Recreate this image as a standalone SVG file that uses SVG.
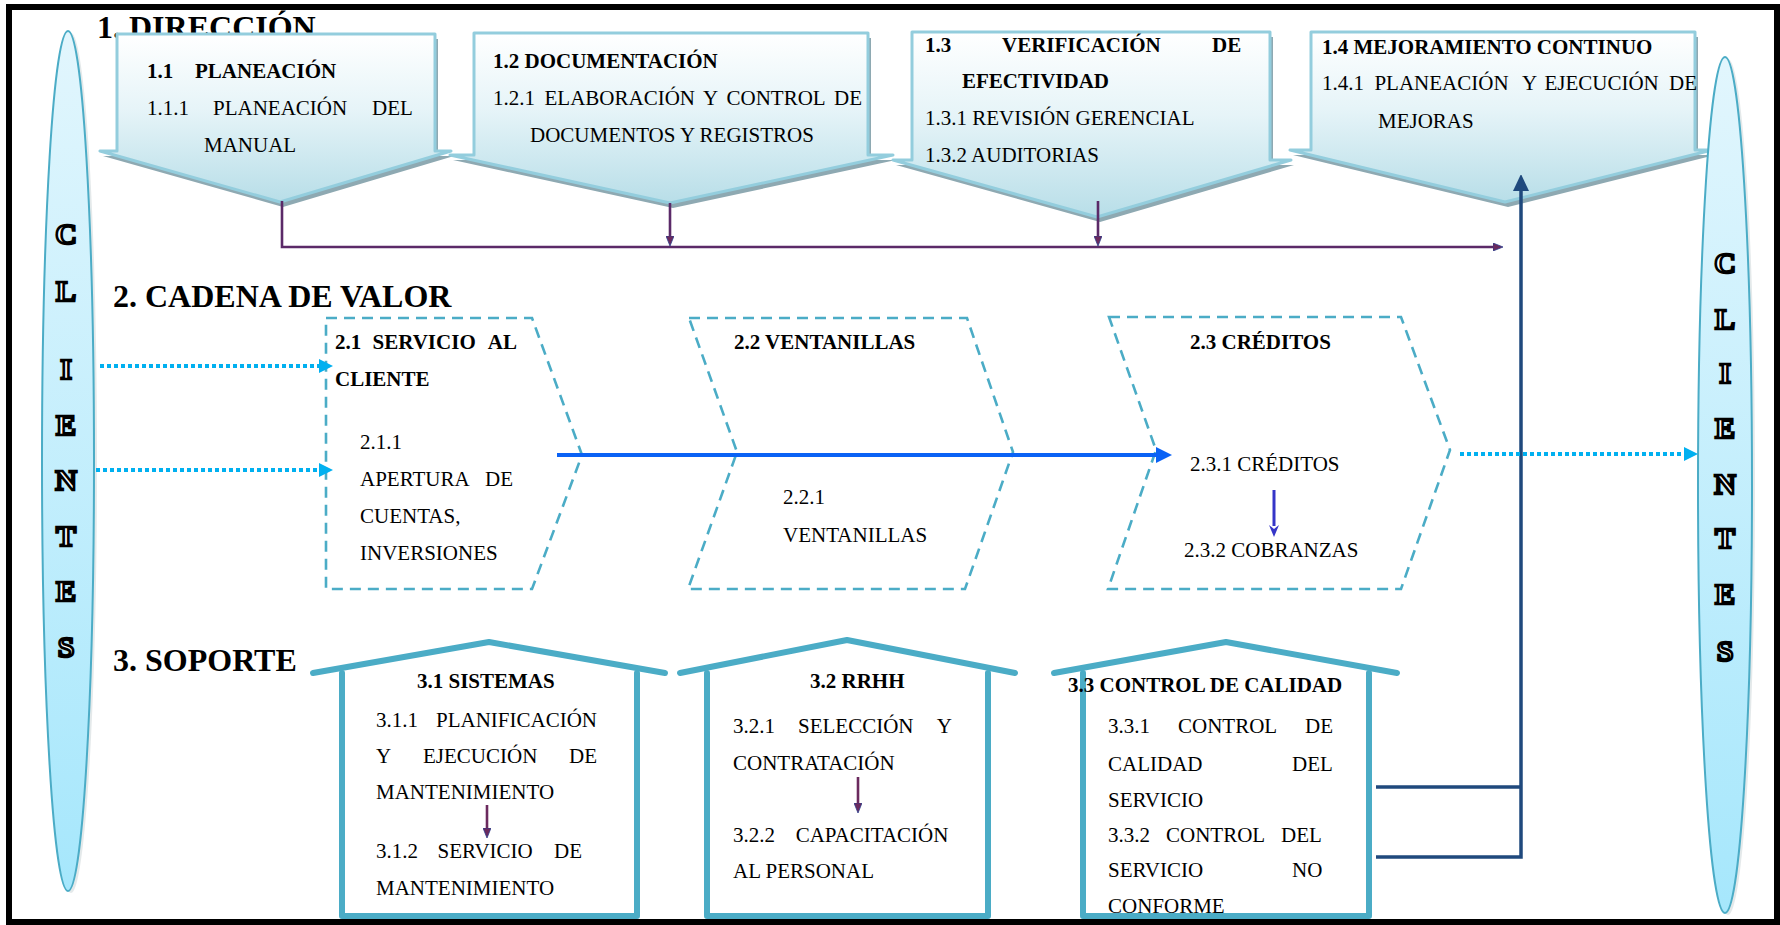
<svg xmlns="http://www.w3.org/2000/svg" width="1780" height="925" viewBox="0 0 1780 925">
<style>
text{font-family:"Liberation Serif","Times New Roman",serif;fill:#000}
.t{font-size:21px}
.b{font-size:21px;font-weight:bold}
.h{font-size:32px;font-weight:bold}
.cl{font-size:30px;font-weight:bold;fill:#fff;stroke:#000;stroke-width:2.6;text-anchor:middle}
.callout{fill:url(#gTop);stroke:#93cddd;stroke-width:3;stroke-linejoin:round}
.cshadow{fill:#8ea9b2}
.chev{fill:none;stroke:#4bacc6;stroke-width:2.6;stroke-dasharray:11 7}
.house{fill:none;stroke:#4bacc6;stroke-width:6;stroke-linecap:round;stroke-linejoin:round}
.dot{fill:none;stroke:#00b0f0;stroke-width:4;stroke-dasharray:4 3}
.pur{fill:none;stroke:#5b2a68;stroke-width:2.6}
.navy{fill:none;stroke:#1f497d;stroke-width:3.5}
</style>
<defs>
<linearGradient id="gTop" x1="0" y1="0" x2="0" y2="1">
<stop offset="0" stop-color="#ffffff"/>
<stop offset="0.45" stop-color="#e6f4f8"/>
<stop offset="1" stop-color="#b8dee8"/>
</linearGradient>
<linearGradient id="gEll" x1="0" y1="0" x2="0" y2="1">
<stop offset="0" stop-color="#e2f6fd"/>
<stop offset="1" stop-color="#a6e7fc"/>
</linearGradient>
<marker id="mCyan" markerUnits="userSpaceOnUse" viewBox="0 0 14 14" markerWidth="14" markerHeight="14" refX="1" refY="7" orient="auto"><path d="M0,0 L14,7 L0,14 z" fill="#00b0f0"/></marker>
<marker id="mBlue" markerUnits="userSpaceOnUse" viewBox="0 0 16 16" markerWidth="16" markerHeight="16" refX="1" refY="8" orient="auto"><path d="M0,0 L16,8 L0,16 z" fill="#0a62f5"/></marker>
<marker id="mNavy" markerUnits="userSpaceOnUse" viewBox="0 0 16 16" markerWidth="16" markerHeight="16" refX="1" refY="8" orient="auto"><path d="M0,0 L17,8 L0,16 z" fill="#1f497d"/></marker>
<marker id="mPur" markerUnits="userSpaceOnUse" viewBox="0 0 10 8" markerWidth="10" markerHeight="8" refX="1" refY="4" orient="auto"><path d="M0,0 L10,4 L0,8 z" fill="#6b2a5e" stroke="#2c3e8c" stroke-width="0.8"/></marker>
<marker id="mVio" markerUnits="userSpaceOnUse" viewBox="0 0 12 10" markerWidth="12" markerHeight="10" refX="1" refY="5" orient="auto"><path d="M0,0 L12,5 L0,10 L4,5 z" fill="#3636c8"/></marker>
</defs>

<rect x="0" y="0" width="1780" height="925" fill="#fff"/>
<rect x="9" y="7" width="1768" height="915" fill="none" stroke="#000" stroke-width="6"/>

<text class="h" x="97" y="38">1. DIRECCIÓN</text>
<text class="h" x="113" y="307">2. CADENA DE VALOR</text>
<text class="h" x="113" y="671">3. SOPORTE</text>

<g id="n1-1">
<path class="cshadow" transform="translate(3,5)" d="M117,34 H435 V151 H451 L280,202 L100,151 H117 Z"/>
<path class="callout" d="M117,34 H435 V151 H451 L280,202 L100,151 H117 Z"/>
<text class="b" y="78"><tspan x="147">1.1</tspan><tspan x="195">PLANEACIÓN</tspan></text>
<text class="t" y="115"><tspan x="147">1.1.1</tspan><tspan x="213">PLANEACIÓN</tspan><tspan x="372">DEL</tspan></text>
<text class="t" x="204" y="152">MANUAL</text>
</g>
<g id="n1-2">
<path class="cshadow" transform="translate(3,5)" d="M474,33 H868 V155 H893 L670,203 L450,155 H474 Z"/>
<path class="callout" d="M474,33 H868 V155 H893 L670,203 L450,155 H474 Z"/>
<text class="b" x="493" y="68">1.2 DOCUMENTACIÓN</text>
<text class="t" y="105"><tspan x="493">1.2.1</tspan><tspan x="544.5">ELABORACIÓN</tspan><tspan x="703">Y</tspan><tspan x="726.5">CONTROL</tspan><tspan x="834">DE</tspan></text>
<text class="t" x="530" y="142">DOCUMENTOS Y REGISTROS</text>
</g>
<g id="n1-3">
<path class="cshadow" transform="translate(3,5)" d="M912,32 H1270 V160 H1291 L1097,217 L893,160 H912 Z"/>
<path class="callout" d="M912,32 H1270 V160 H1291 L1097,217 L893,160 H912 Z"/>
<text class="b" y="52"><tspan x="925">1.3</tspan><tspan x="1002">VERIFICACIÓN</tspan><tspan x="1212">DE</tspan></text>
<text class="b" x="962" y="88">EFECTIVIDAD</text>
<text class="t" x="925" y="125">1.3.1 REVISIÓN GERENCIAL</text>
<text class="t" x="925" y="162">1.3.2 AUDITORIAS</text>
</g>
<g id="n1-4">
<path class="cshadow" transform="translate(3,5)" d="M1311,32 H1695 V150 H1712 L1505,202 L1290,150 H1311 Z"/>
<path class="callout" d="M1311,32 H1695 V150 H1712 L1505,202 L1290,150 H1311 Z"/>
<text class="b" x="1322" y="54">1.4 MEJORAMIENTO CONTINUO</text>
<text class="t" y="90"><tspan x="1322">1.4.1</tspan><tspan x="1374.4">PLANEACIÓN</tspan><tspan x="1522">Y</tspan><tspan x="1544.4">EJECUCIÓN</tspan><tspan x="1669">DE</tspan></text>
<text class="t" x="1378" y="128">MEJORAS</text>
</g>

<g id="clientes-left">
<ellipse cx="71" cy="463" rx="26" ry="430" fill="#c9d3d6" opacity="0.5"/>
<ellipse cx="68" cy="461" rx="26" ry="430" fill="url(#gEll)" stroke="#4bacc6" stroke-width="2"/>
<text class="cl" x="66" y="244">C</text>
<text class="cl" x="66" y="301">L</text>
<text class="cl" x="66" y="379">I</text>
<text class="cl" x="66" y="435">E</text>
<text class="cl" x="66" y="490">N</text>
<text class="cl" x="66" y="546">T</text>
<text class="cl" x="66" y="601">E</text>
<text class="cl" x="66" y="657">S</text>
</g>
<g id="clientes-right">
<ellipse cx="1728" cy="487" rx="27" ry="428" fill="#c9d3d6" opacity="0.5"/>
<ellipse cx="1725" cy="485" rx="27" ry="428" fill="url(#gEll)" stroke="#4bacc6" stroke-width="2"/>
<text class="cl" x="1725" y="273">C</text>
<text class="cl" x="1725" y="329">L</text>
<text class="cl" x="1725" y="383">I</text>
<text class="cl" x="1725" y="438">E</text>
<text class="cl" x="1725" y="494">N</text>
<text class="cl" x="1725" y="548">T</text>
<text class="cl" x="1725" y="604">E</text>
<text class="cl" x="1725" y="661">S</text>
</g>

<g id="n2-1">
<path class="chev" d="M326,318 H532 L582,455 L532,589 H326 Z"/>
<text class="b" y="349"><tspan x="335">2.1</tspan><tspan x="372.6">SERVICIO</tspan><tspan x="487.8">AL</tspan></text>
<text class="b" x="335" y="386">CLIENTE</text>
<text class="t" x="360" y="449">2.1.1</text>
<text class="t" y="486"><tspan x="360">APERTURA</tspan><tspan x="485">DE</tspan></text>
<text class="t" x="360" y="523">CUENTAS,</text>
<text class="t" x="360" y="560">INVERSIONES</text>
</g>
<g id="n2-2">
<path class="chev" d="M689,318 H967 L1013,452 L965,589 H688 L737,452 Z"/>
<text class="b" x="734" y="349">2.2 VENTANILLAS</text>
<text class="t" x="783" y="504">2.2.1</text>
<text class="t" x="783" y="542">VENTANILLAS</text>
</g>
<g id="n2-3">
<path class="chev" d="M1109,317 H1401 L1450,450 L1401,589 H1108 L1156,450 Z"/>
<text class="b" x="1190" y="349">2.3 CRÉDITOS</text>
<text class="t" x="1190" y="471">2.3.1 CRÉDITOS</text>
<text class="t" x="1184" y="557">2.3.2 COBRANZAS</text>
</g>

<g id="n3-1">
<polyline class="house" points="313,673 489,642 665,673"/>
<polyline class="house" points="342,673 342,916 637,916 637,673"/>
<text class="b" x="417" y="688">3.1 SISTEMAS</text>
<text class="t" y="727"><tspan x="376">3.1.1</tspan><tspan x="436">PLANIFICACIÓN</tspan></text>
<text class="t" y="763"><tspan x="376">Y</tspan><tspan x="423">EJECUCIÓN</tspan><tspan x="569">DE</tspan></text>
<text class="t" x="376" y="799">MANTENIMIENTO</text>
<text class="t" y="858"><tspan x="376">3.1.2</tspan><tspan x="437.6">SERVICIO</tspan><tspan x="554">DE</tspan></text>
<text class="t" x="376" y="895">MANTENIMIENTO</text>
</g>
<g id="n3-2">
<polyline class="house" points="680,673 847,640 1015,673"/>
<polyline class="house" points="707,673 707,916 988,916 988,673"/>
<text class="b" x="810" y="688">3.2 RRHH</text>
<text class="t" y="733"><tspan x="733">3.2.1</tspan><tspan x="798">SELECCIÓN</tspan><tspan x="936.8">Y</tspan></text>
<text class="t" x="733" y="770">CONTRATACIÓN</text>
<text class="t" y="842"><tspan x="733">3.2.2</tspan><tspan x="795.7">CAPACITACIÓN</tspan></text>
<text class="t" x="733" y="878">AL PERSONAL</text>
</g>
<g id="n3-3">
<polyline class="house" points="1054,673 1226,642 1397,673"/>
<polyline class="house" points="1083,673 1083,916 1369,916 1369,673"/>
<text class="b" x="1068" y="692">3.3 CONTROL DE CALIDAD</text>
<text class="t" y="733"><tspan x="1108">3.3.1</tspan><tspan x="1178">CONTROL</tspan><tspan x="1305">DE</tspan></text>
<text class="t" y="771"><tspan x="1108">CALIDAD</tspan><tspan x="1292">DEL</tspan></text>
<text class="t" x="1108" y="807">SERVICIO</text>
<text class="t" y="842"><tspan x="1108">3.3.2</tspan><tspan x="1166">CONTROL</tspan><tspan x="1281">DEL</tspan></text>
<text class="t" y="877"><tspan x="1108">SERVICIO</tspan><tspan x="1292">NO</tspan></text>
<text class="t" x="1108" y="913">CONFORME</text>
</g>

<g id="connectors">
<path class="pur" d="M282,201 V247 H1494" marker-end="url(#mPur)"/>
<path class="pur" d="M670,203 V237" marker-end="url(#mPur)"/>
<path class="pur" d="M1098,201 V237" marker-end="url(#mPur)"/>
<path class="navy" d="M1376,787 H1521"/>
<path class="navy" d="M1376,857 H1521 V190" marker-end="url(#mNavy)"/>
<path class="dot" d="M100,366 H320" marker-end="url(#mCyan)"/>
<path class="dot" d="M96,470 H320" marker-end="url(#mCyan)"/>
<path class="dot" d="M1460,454 H1685" marker-end="url(#mCyan)"/>
<path d="M557,455 H1157" fill="none" stroke="#0a62f5" stroke-width="4" marker-end="url(#mBlue)"/>
<path d="M1274,490 V526" fill="none" stroke="#3636c8" stroke-width="3" marker-end="url(#mVio)"/>
<path d="M487,805 V829" fill="none" stroke="#6b2a5e" stroke-width="2.6" marker-end="url(#mPur)"/>
<path d="M858,777 V804" fill="none" stroke="#6b2a5e" stroke-width="2.6" marker-end="url(#mPur)"/>
</g>
</svg>
